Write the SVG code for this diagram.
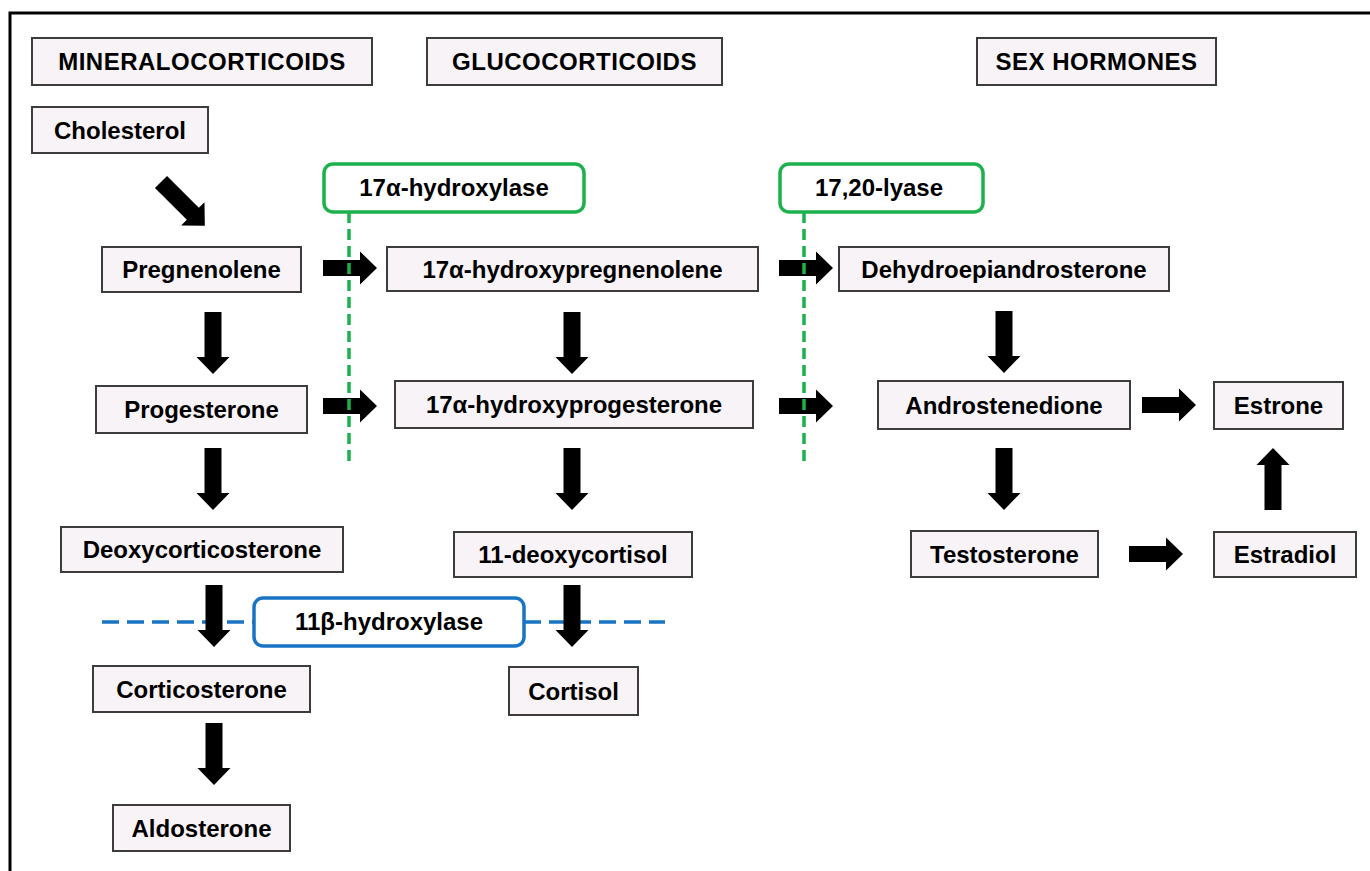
<svg xmlns="http://www.w3.org/2000/svg" width="1370" height="871" viewBox="0 0 1370 871">
<style>
.box{fill:#f7f3f7;stroke:#3c3c3c;stroke-width:2}
.t{font-family:"Liberation Sans",Arial,sans-serif;font-weight:bold;font-size:24px;fill:#000;text-anchor:middle}
.hd{letter-spacing:0.5px}
.enzg{fill:#fff;stroke:#1db14e;stroke-width:3.5}
.enzb{fill:#fff;stroke:#1a74c4;stroke-width:3.5}
.dg{stroke:#1db14e;stroke-width:3.5;stroke-dasharray:11 6;fill:none}
.db{stroke:#1a74c4;stroke-width:3.5;stroke-dasharray:17 8;fill:none}
.arr{fill:#000}
</style>
<defs>
<path id="ar" class="arr" d="M0,-8 H37 V-16.5 L54,0 L37,16.5 V8 H0 Z"/>
<path id="ad" class="arr" d="M-8.5,0 H8.5 V45 H16.5 L0,62 L-16.5,45 H-8.5 Z"/>
</defs>
<rect x="10" y="13" width="1400" height="900" fill="#fff" stroke="#000" stroke-width="3"/>

<g id="hdr-mineralocorticoids"><rect class="box" x="32" y="38" width="340" height="47"/><text class="t hd" x="202" y="70">MINERALOCORTICOIDS</text></g>
<g id="hdr-glucocorticoids"><rect class="box" x="427" y="38" width="295" height="47"/><text class="t hd" x="574.5" y="70">GLUCOCORTICOIDS</text></g>
<g id="hdr-sex"><rect class="box" x="977" y="38" width="239" height="47"/><text class="t hd" x="1096.5" y="70">SEX HORMONES</text></g>

<g id="connectors-behind">
<path class="db" d="M102,622 H254 M524,622 H665"/>
</g>

<g id="connectors">
<use href="#ad" transform="translate(161,182) rotate(-45)"/>
<use href="#ar" x="323" y="268"/>
<use href="#ar" x="323" y="406"/>
<use href="#ar" x="779" y="268"/>
<use href="#ar" x="779" y="406"/>
<use href="#ar" x="1142" y="405"/>
<use href="#ar" x="1129" y="554"/>
<use href="#ad" x="213" y="312"/>
<use href="#ad" x="213" y="448"/>
<use href="#ad" x="214" y="585"/>
<use href="#ad" x="214" y="723"/>
<use href="#ad" x="572" y="312"/>
<use href="#ad" x="572" y="448"/>
<use href="#ad" x="572" y="585"/>
<use href="#ad" x="1004" y="311"/>
<use href="#ad" x="1004" y="448"/>
<use href="#ad" transform="translate(1273,510) rotate(180)"/>
<path class="dg" d="M349,212 V462"/>
<path class="dg" d="M804,212 V462"/>
</g>

<g id="enz-17a-hydroxylase"><rect class="enzg" x="324" y="164" width="260" height="48" rx="9"/><text class="t" x="454" y="196">17α-hydroxylase</text></g>
<g id="enz-17-20-lyase"><rect class="enzg" x="780" y="164" width="203" height="48" rx="9"/><text class="t" x="879" y="196">17,20-lyase</text></g>
<g id="enz-11b-hydroxylase"><rect class="enzb" x="254" y="598" width="270" height="48" rx="9"/><text class="t" x="389" y="630">11β-hydroxylase</text></g>

<g id="cholesterol"><rect class="box" x="32" y="107" width="176" height="46"/><text class="t" x="120" y="138.5">Cholesterol</text></g>
<g id="pregnenolene"><rect class="box" x="102" y="247" width="199" height="45"/><text class="t" x="201.5" y="278">Pregnenolene</text></g>
<g id="oh-pregnenolene"><rect class="box" x="387" y="247" width="371" height="44"/><text class="t" x="572.5" y="277.5">17α-hydroxypregnenolene</text></g>
<g id="dhea"><rect class="box" x="839" y="247" width="330" height="44"/><text class="t" x="1004" y="277.5">Dehydroepiandrosterone</text></g>
<g id="progesterone"><rect class="box" x="96" y="386" width="211" height="47"/><text class="t" x="201.5" y="418">Progesterone</text></g>
<g id="oh-progesterone"><rect class="box" x="395" y="381" width="358" height="47"/><text class="t" x="574" y="413">17α-hydroxyprogesterone</text></g>
<g id="androstenedione"><rect class="box" x="878" y="381" width="252" height="48"/><text class="t" x="1004" y="413.5">Androstenedione</text></g>
<g id="estrone"><rect class="box" x="1214" y="382" width="129" height="47"/><text class="t" x="1278.5" y="414">Estrone</text></g>
<g id="deoxycorticosterone"><rect class="box" x="61" y="527" width="282" height="45"/><text class="t" x="202" y="558">Deoxycorticosterone</text></g>
<g id="deoxycortisol"><rect class="box" x="454" y="532" width="238" height="45"/><text class="t" x="573" y="563">11-deoxycortisol</text></g>
<g id="testosterone"><rect class="box" x="911" y="531" width="187" height="46"/><text class="t" x="1004.5" y="562.5">Testosterone</text></g>
<g id="estradiol"><rect class="box" x="1214" y="532" width="142" height="45"/><text class="t" x="1285" y="563">Estradiol</text></g>
<g id="corticosterone"><rect class="box" x="93" y="666" width="217" height="46"/><text class="t" x="201.5" y="697.5">Corticosterone</text></g>
<g id="cortisol"><rect class="box" x="509" y="667" width="129" height="48"/><text class="t" x="573.5" y="699.5">Cortisol</text></g>
<g id="aldosterone"><rect class="box" x="113" y="805" width="177" height="46"/><text class="t" x="201.5" y="836.5">Aldosterone</text></g>
</svg>
